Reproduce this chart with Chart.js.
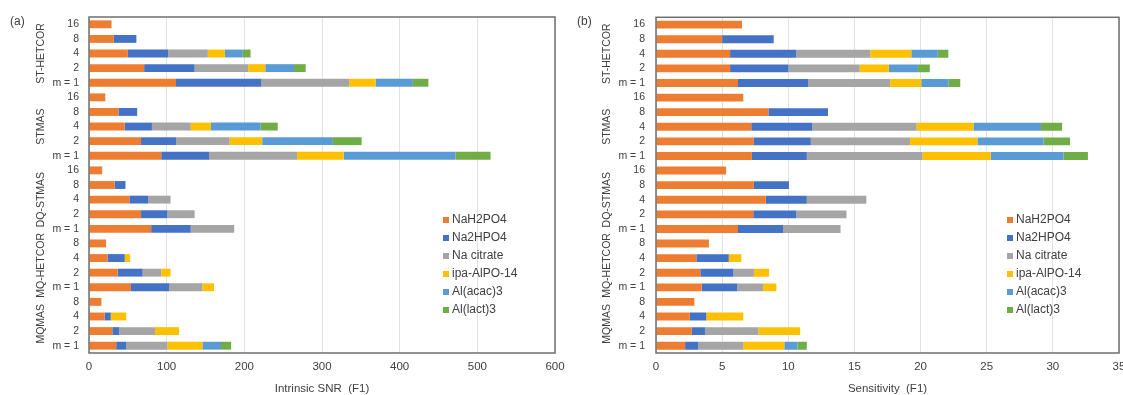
<!DOCTYPE html>
<html>
<head>
<meta charset="utf-8">
<script src="https://cdn.jsdelivr.net/npm/chart.js@4"></script>
<style>
body{margin:0;background:#fff;}
#wrap{position:relative;width:1123px;height:395px;}
.panel{position:absolute;top:0;height:395px;}
#pa{left:0;width:575px;}
#pb{left:561px;width:562px;}
</style>
</head>
<body>
<div id="wrap">
<div class="panel" id="pa"><canvas id="snrChart"></canvas></div>
<div class="panel" id="pb"><canvas id="sensChart"></canvas></div>
</div>
<script>
const groups = ['ST-HETCOR', 'STMAS', 'DQ-STMAS', 'MQ-HETCOR', 'MQMAS'];
const levels = [
    ['16', '8', '4', '2', 'm = 1'],
    ['16', '8', '4', '2', 'm = 1'],
    ['16', '8', '4', '2', 'm = 1'],
    ['8', '4', '2', 'm = 1'],
    ['8', '4', '2', 'm = 1']
];
const seriesNames = ['NaH2PO4', 'Na2HPO4', 'Na citrate', 'ipa-AlPO-14', 'Al(acac)3', 'Al(lact)3'];
const seriesColors = ['#ED7D31', '#4472C4', '#A5A5A5', '#FFC000', '#5B9BD5', '#70AD47'];

// (a) intrinsic SNR, segment lengths per row (top to bottom)
const snrNaH2PO4 = [29, 32, 50, 71, 112, 21, 38, 46, 67, 93, 17, 33, 52, 67, 80, 22, 24, 37, 54, 16, 20, 30, 35];
const snrNa2HPO4 = [0, 29, 52, 65, 110, 0, 24, 35, 45, 62, 0, 14, 24, 34, 51, 0, 22, 32, 49, 0, 8, 9, 13];
const snrCitrate = [0, 0, 51, 69, 113, 0, 0, 50, 69, 113, 0, 0, 29, 35, 56, 0, 0, 24, 43, 0, 0, 46, 53];
const snrAlPO14 = [0, 0, 22, 22, 34, 0, 0, 26, 42, 60, 0, 0, 0, 0, 0, 0, 7, 12, 15, 0, 20, 31, 45];
const snrAcac = [0, 0, 23, 37, 48, 0, 0, 64, 91, 144, 0, 0, 0, 0, 0, 0, 0, 0, 0, 0, 0, 0, 24];
const snrLact = [0, 0, 10, 15, 20, 0, 0, 22, 37, 45, 0, 0, 0, 0, 0, 0, 0, 0, 0, 0, 0, 0, 13];

// (b) sensitivity
const senNaH2PO4 = [6.5, 5.0, 5.6, 5.6, 6.2, 6.6, 8.5, 7.2, 7.4, 7.25, 5.3, 7.4, 8.3, 7.35, 6.2, 4.0, 3.05, 3.35, 3.45, 2.9, 2.55, 2.7, 2.2];
const senNa2HPO4 = [0, 3.9, 5.0, 4.4, 5.3, 0, 4.5, 4.6, 4.3, 4.15, 0, 2.65, 3.1, 3.25, 3.4, 0, 2.45, 2.5, 2.7, 0, 1.25, 1.0, 1.0];
const senCitrate = [0, 0, 5.6, 5.4, 6.2, 0, 0, 7.9, 7.5, 8.75, 0, 0, 4.5, 3.8, 4.35, 0, 0, 1.55, 1.95, 0, 0, 4.05, 3.4];
const senAlPO14 = [0, 0, 3.1, 2.2, 2.35, 0, 0, 4.3, 5.1, 5.15, 0, 0, 0, 0, 0, 0, 0.95, 1.15, 1.0, 0, 2.8, 3.15, 3.1];
const senAcac = [0, 0, 2.0, 2.2, 2.05, 0, 0, 5.1, 5.0, 5.5, 0, 0, 0, 0, 0, 0, 0, 0, 0, 0, 0, 0, 1.0];
const senLact = [0, 0, 0.8, 0.9, 0.9, 0, 0, 1.6, 2.0, 1.85, 0, 0, 0, 0, 0, 0, 0, 0, 0, 0, 0, 0, 0.7];

const rowLabels = levels.flat();
const fontFam = '"Liberation Sans", Arial, sans-serif';

const decor = {
    id: 'decor',
    afterDraw(chart, args, opts) {
        const ctx = chart.ctx;
        const a = chart.chartArea;
        const y = chart.scales.y;
        ctx.save();
        ctx.strokeStyle = '#6f6f6f';
        ctx.lineWidth = 1.5;
        ctx.strokeRect(a.left, a.top, a.right - a.left, a.bottom - a.top);

        ctx.fillStyle = '#404040';
        ctx.font = '10.5px ' + fontFam;
        ctx.textAlign = 'center';
        ctx.textBaseline = 'middle';
        let start = 0;
        groups.forEach((g, i) => {
            const n = levels[i].length;
            const mid = (y.getPixelForValue(start) + y.getPixelForValue(start + n - 1)) / 2;
            ctx.save();
            ctx.translate(opts.groupX, mid);
            ctx.rotate(-Math.PI / 2);
            ctx.fillText(g, 0, 0);
            ctx.restore();
            start += n;
        });

        ctx.textAlign = 'left';
        ctx.font = '12px ' + fontFam;
        ctx.fillText(opts.letter, opts.letterX, 22);

        chart.data.datasets.forEach((ds, i) => {
            const ly = opts.legendY + i * 18;
            ctx.fillStyle = ds.backgroundColor;
            ctx.fillRect(opts.legendX, ly - 3, 6, 6);
            ctx.fillStyle = '#404040';
            ctx.fillText(ds.label, opts.legendX + 9, ly);
        });
        ctx.restore();
    }
};

function makeChart(id, series, xMax, xStep, title, yWidth, rightPad, deco) {
    new Chart(document.getElementById(id), {
        type: 'bar',
        data: {
            labels: rowLabels,
            datasets: series.map((vals, i) => ({
                label: seriesNames[i],
                data: vals,
                backgroundColor: seriesColors[i],
                borderWidth: 0,
                categoryPercentage: 1,
                barPercentage: 0.54
            }))
        },
        options: {
            indexAxis: 'y',
            responsive: true,
            maintainAspectRatio: false,
            animation: false,
            layout: { padding: { top: 17, right: rightPad, bottom: 0, left: 0 } },
            plugins: {
                legend: { display: false },
                tooltip: { enabled: false },
                decor: deco
            },
            scales: {
                x: {
                    stacked: true,
                    min: 0,
                    max: xMax,
                    ticks: { stepSize: xStep, color: '#404040', padding: 7, font: { family: fontFam, size: 11.5 } },
                    grid: { color: '#e2e2e2', drawTicks: false },
                    border: { display: false },
                    title: { display: true, text: title, color: '#404040', padding: 0, font: { family: fontFam, size: 11.5, lineHeight: 1 } },
                    afterFit(s) { s.height = 42; s.paddingLeft = 0; s.paddingRight = 0; }
                },
                y: {
                    stacked: true,
                    ticks: { color: '#404040', padding: yWidth - (deco.tickRight), autoSkip: false, font: { family: fontFam, size: 10.5 } },
                    grid: { display: false, drawTicks: false },
                    border: { display: false },
                    afterFit(s) { s.width = yWidth; }
                }
            }
        },
        plugins: [decor]
    });
}

makeChart('snrChart',
    [snrNaH2PO4, snrNa2HPO4, snrCitrate, snrAlPO14, snrAcac, snrLact],
    600, 100, 'Intrinsic SNR  (F1)', 89, 20,
    { groupX: 41, letter: '(a)', letterX: 10, legendX: 443, legendY: 220, tickRight: 79 });

makeChart('sensChart',
    [senNaH2PO4, senNa2HPO4, senCitrate, senAlPO14, senAcac, senLact],
    35, 5, 'Sensitivity  (F1)', 95, 4,
    { groupX: 46, letter: '(b)', letterX: 16, legendX: 446, legendY: 220, tickRight: 84 });
</script>
</body>
</html>
